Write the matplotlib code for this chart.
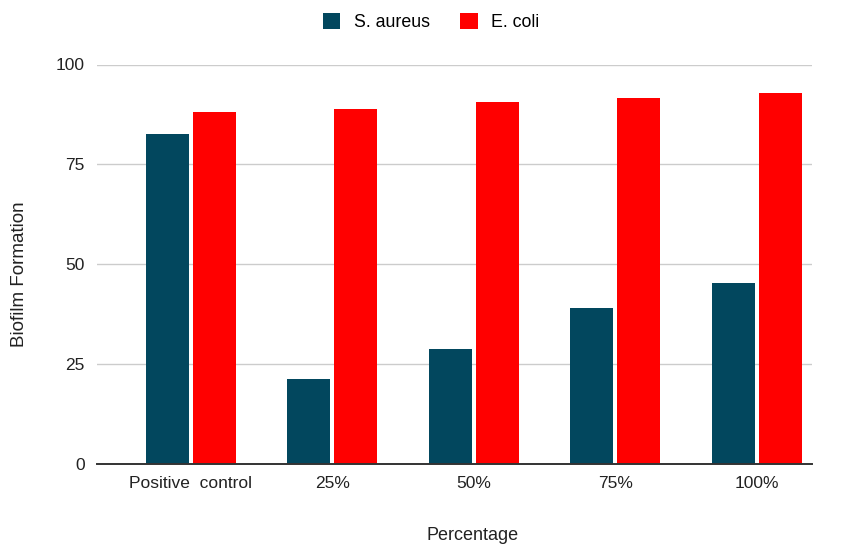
import matplotlib
matplotlib.use("Agg")
import matplotlib.pyplot as plt
import numpy as np

plt.rcParams['font.family'] = ['Liberation Sans', 'DejaVu Sans']

categories = ["Positive  control", "25%", "50%", "75%", "100%"]
s_aureus = [82.5, 21.1, 28.6, 39.0, 45.2]
e_coli = [88.1, 88.9, 90.5, 91.7, 92.9]
y_ticks = [0, 25, 50, 75, 100]

fig = plt.figure(figsize=(8.41, 5.46), dpi=100)
ax = fig.add_axes([97 / 841, 1 - 463.5 / 546, 715 / 841, 399 / 546])

x = np.arange(len(categories))
w = 0.304
off = 0.166
ax.bar(x - off, s_aureus, width=w, color="#02475e", label="S. aureus", zorder=3)
ax.bar(x + off, e_coli, width=w, color="#ff0000", label="E. coli", zorder=3)

ax.set_xlim(-0.664, len(categories) - 1 + 0.39)
ax.set_ylim(0, 100)
ax.set_yticks(y_ticks)
ax.set_xticks(x)
ax.set_xticklabels(categories)
ax.tick_params(axis="both", length=0, labelsize=12.5, colors="#222222")
ax.tick_params(axis="y", pad=9)
ax.tick_params(axis="x", pad=9)

ax.grid(axis="y", color="#cccccc", linewidth=1, zorder=0)
for s in ["top", "right", "left"]:
    ax.spines[s].set_visible(False)
ax.spines["bottom"].set_color("#333333")
ax.spines["bottom"].set_linewidth(1.4)
ax.spines["bottom"].set_zorder(4)

ax.set_xlabel("Percentage", fontsize=13, color="#222222")
ax.xaxis.set_label_coords((473 - 97) / 715, -(536 - 463.5) / 399)
ax.xaxis.label.set_verticalalignment("center")
ax.set_ylabel("Biofilm Formation", fontsize=13.5, color="#222222")
ax.yaxis.set_label_coords(-(97 - 19) / 715, (463.5 - 274) / 399)
ax.yaxis.label.set_verticalalignment("center")

fig.legend(loc="center", bbox_to_anchor=(0.5125, 1 - 22 / 546), ncol=2, frameon=False,
           handlelength=1.0, handleheight=1.0, handletextpad=0.75, columnspacing=1.7,
           fontsize=12.8)

fig.savefig("out.png", dpi=100)
